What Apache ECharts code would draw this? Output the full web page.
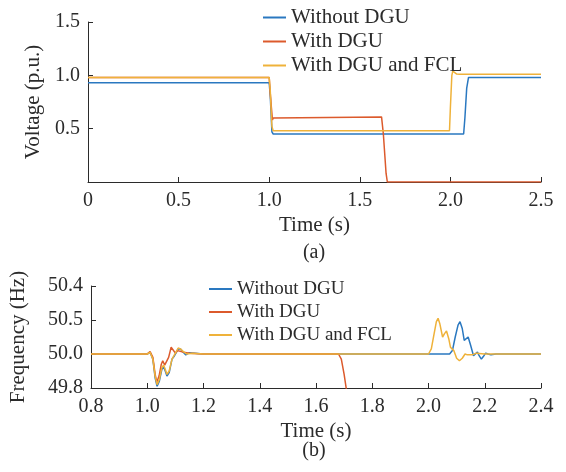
<!DOCTYPE html>
<html>
<head>
<meta charset="utf-8">
<script src="https://cdn.jsdelivr.net/npm/echarts@6/dist/echarts.min.js"></script>
</head>
<body style="margin:0">
<div id="main" style="width: 566px; height: 472px;"></div>
<script type="text/javascript">
// series names
var names = ['Without DGU', 'With DGU', 'With DGU and FCL'];
var colors = ['#2a78c0', '#dc5a2c', '#efb23a'];

// (a) voltage, [time, p.u.]
var voltWithout = [[0,0.93],[1.0,0.93],[1.006,0.8],[1.015,0.47],[1.022,0.45],[2.073,0.45],[2.08,0.6],[2.09,0.88],[2.1,0.98],[2.5,0.98]];
var voltWithDgu = [[0,0.98],[1.0,0.98],[1.005,0.85],[1.012,0.7],[1.018,0.58],[1.022,0.6],[1.03,0.61],[1.62,0.61],[1.63,0.45],[1.645,0.08],[1.652,0],[2.5,0]];
var voltWithFcl = [[0,0.98],[1.0,0.98],[1.006,0.85],[1.015,0.52],[1.022,0.48],[1.995,0.48],[2.0,0.7],[2.008,1.0],[2.013,1.04],[2.02,1.025],[2.035,1.012],[2.05,1.01],[2.5,1.01]];
var voltTicks = ['', '0.5', '1.0', '1.5'];
var timeTicksA = ['0', '0.5', '1.0', '1.5', '2.0', '2.5'];

// (b) frequency, [time, Hz]
var freqWithout = [[0.8,50],[1.0,50],[1.01,50.01],[1.02,49.97],[1.028,49.86],[1.035,49.81],[1.043,49.84],[1.052,49.91],[1.058,49.925],[1.064,49.9],[1.07,49.87],[1.078,49.89],[1.088,49.97],[1.095,49.985],[1.102,49.99],[1.11,50.03],[1.118,50.03],[1.128,50.01],[1.137,49.995],[1.15,50.008],[1.17,50.005],[1.2,50.0],[2.075,50.0],[2.085,50.02],[2.095,50.1],[2.105,50.17],[2.112,50.19],[2.12,50.15],[2.127,50.08],[2.134,50.09],[2.141,50.1],[2.15,50.05],[2.16,49.99],[2.167,50.0],[2.174,50.012],[2.18,49.99],[2.188,49.97],[2.195,49.985],[2.203,50.005],[2.212,50.0],[2.222,49.995],[2.24,50.0],[2.4,50.0]];
var freqWithDgu = [[0.8,50],[1.0,50],[1.01,50.015],[1.02,49.98],[1.028,49.88],[1.034,49.835],[1.042,49.87],[1.05,49.94],[1.055,49.96],[1.062,49.935],[1.068,49.93],[1.076,49.98],[1.085,50.04],[1.092,50.03],[1.1,50.005],[1.108,50.02],[1.115,50.025],[1.13,50.01],[1.15,50.005],[1.2,50.0],[1.68,50.0],[1.69,49.97],[1.7,49.88],[1.71,49.77],[1.72,49.6]];
var freqWithFcl = [[0.8,50],[1.0,50],[1.01,50.01],[1.02,49.97],[1.028,49.87],[1.035,49.82],[1.043,49.85],[1.052,49.92],[1.058,49.935],[1.064,49.91],[1.07,49.88],[1.078,49.9],[1.088,49.97],[1.095,49.99],[1.102,50.0],[1.11,50.035],[1.118,50.03],[1.128,50.015],[1.14,50.0],[1.16,50.005],[1.2,50.0],[2.0,50.0],[2.01,50.03],[2.02,50.12],[2.028,50.19],[2.034,50.21],[2.04,50.18],[2.05,50.1],[2.057,50.12],[2.064,50.135],[2.072,50.09],[2.078,50.04],[2.083,50.045],[2.09,50.02],[2.1,49.975],[2.11,49.96],[2.12,49.975],[2.13,50.0],[2.138,49.995],[2.145,49.985],[2.155,49.995],[2.17,50.005],[2.2,50.0],[2.4,50.0]];
var freqTicks = ['49.8', '50.0', '50.5', '50.4'];
var timeTicksB = ['0.8', '1.0', '1.2', '1.4', '1.6', '1.8', '2.0', '2.2', '2.4'];

var font = 'Liberation Serif';
var ink = '#2b2b2b';

function tickFmt(labels, min, step) {
    return function (v) {
        return labels[Math.round((v - min) / step)];
    };
}

function xAxis(idx, min, max, step, labels) {
    return {
        type: 'value', gridIndex: idx, min: min, max: max, interval: step,
        name: 'Time (s)', nameLocation: 'middle', nameGap: 33,
        nameTextStyle: {fontFamily: font, fontSize: 21, color: ink},
        axisLine: {lineStyle: {color: ink, width: 1}},
        axisTick: {inside: true, length: 5, lineStyle: {color: ink}},
        axisLabel: {fontFamily: font, fontSize: 20, color: ink, margin: 9, formatter: tickFmt(labels, min, step)},
        splitLine: {show: false}
    };
}

function yAxis(idx, min, max, step, labels, name, gap) {
    return {
        type: 'value', gridIndex: idx, min: min, max: max, interval: step,
        name: name, nameLocation: 'middle', nameGap: gap,
        nameTextStyle: {fontFamily: font, fontSize: 21, color: ink},
        axisLine: {show: true, lineStyle: {color: ink, width: 1}},
        axisTick: {show: true, inside: true, length: 5, lineStyle: {color: ink}},
        axisLabel: {fontFamily: font, fontSize: 20, color: ink, margin: 8, formatter: tickFmt(labels, min, step)},
        splitLine: {show: false}
    };
}

function line(i, idx, data) {
    return {
        name: names[i], type: 'line', xAxisIndex: idx, yAxisIndex: idx,
        data: data, showSymbol: false, symbol: 'none', clip: true,
        lineStyle: {width: 1.5, color: colors[i]}, itemStyle: {color: colors[i]}
    };
}

function legend(left, top, size) {
    return {
        orient: 'vertical', left: left, top: top, itemWidth: 23, itemHeight: 2, icon: 'rect',
        itemGap: 3, data: names,
        textStyle: {fontFamily: font, fontSize: size, color: ink, lineHeight: 20}
    };
}

var myChart = echarts.init(document.getElementById('main'));
var option = {
    animation: false,
    backgroundColor: '#fff',
    grid: [
        {left: 88, top: 22, width: 453, height: 160},
        {left: 88, top: 286, width: 453, height: 102}
    ],
    legend: [legend(258, 2, 21), legend(204, 274, 19)],
    xAxis: [xAxis(0, 0, 2.5, 0.5, timeTicksA), xAxis(1, 0.8, 2.4, 0.2, timeTicksB)],
    yAxis: [
        yAxis(0, 0, 1.5, 0.5, voltTicks, 'Voltage (p.u.)', 43),
        yAxis(1, 49.8, 50.4, 0.2, freqTicks, 'Frequency (Hz)', 62)
    ],
    graphic: [
        {type: 'text', x: 314, y: 253, style: {text: '(a)', font: '20px "Liberation Serif"', fill: ink, textAlign: 'center', textVerticalAlign: 'middle'}},
        {type: 'text', x: 314, y: 451, style: {text: '(b)', font: '20px "Liberation Serif"', fill: ink, textAlign: 'center', textVerticalAlign: 'middle'}}
    ],
    series: [
        line(0, 0, voltWithout), line(1, 0, voltWithDgu), line(2, 0, voltWithFcl),
        line(0, 1, freqWithout), line(1, 1, freqWithDgu), line(2, 1, freqWithFcl)
    ]
};
myChart.setOption(option);
</script>
</body>
</html>
